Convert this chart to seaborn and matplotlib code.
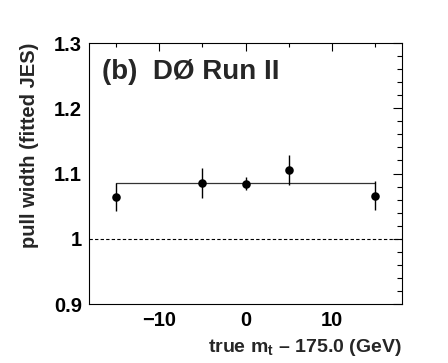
import matplotlib
matplotlib.use("Agg")
import numpy as np
import pandas as pd
import matplotlib.pyplot as plt
import seaborn as sns
from matplotlib.ticker import MultipleLocator, FuncFormatter

# ------------------------------------------------------------
# data
# ------------------------------------------------------------
mass_shift = [-15, -5, 0, 5, 15]          # true m_t - 175.0 (GeV)
pull_width = [1.064, 1.086, 1.084, 1.106, 1.066]
pull_err = [0.022, 0.023, 0.010, 0.023, 0.022]
fit_x = [-15, 15]
fit_y = [1.086, 1.086]

df = pd.DataFrame({"x": mass_shift, "y": pull_width, "err": pull_err})
fit = pd.DataFrame({"x": fit_x, "y": fit_y})

sns.set_style("white")
plt.rcParams["font.family"] = ["Liberation Sans", "DejaVu Sans"]
plt.rcParams["font.weight"] = "bold"
plt.rcParams["mathtext.fontset"] = "custom"
plt.rcParams["mathtext.rm"] = "Liberation Sans:bold"
plt.rcParams["mathtext.default"] = "rm"

fig = plt.figure(figsize=(4.48, 3.63), dpi=100)
ax = fig.add_axes([0.1987, 0.1625, 0.6986, 0.719])

# fit line and reference line
sns.lineplot(data=fit, x="x", y="y", ax=ax, color="#333333", lw=0.9)
ax.axhline(1.0, color="black", lw=0.8, ls=(0, (3, 2)))

# points with error bars
ax.errorbar(df["x"], df["y"], yerr=df["err"], fmt="none", ecolor="black",
            elinewidth=1.0, capsize=0)
sns.scatterplot(data=df, x="x", y="y", ax=ax, color="black", s=38,
                edgecolor="black", linewidth=0, zorder=5)

ax.set_xlim(-18.1, 18.1)
ax.set_ylim(0.9, 1.3)

ax.xaxis.set_major_locator(MultipleLocator(10))
ax.xaxis.set_minor_locator(MultipleLocator(5))
ax.yaxis.set_major_locator(MultipleLocator(0.1))
ax.yaxis.set_minor_locator(MultipleLocator(0.02))
ax.yaxis.set_major_formatter(FuncFormatter(lambda v, p: "%g" % round(v, 2)))

ax.tick_params(axis="both", which="both", direction="in", top=True,
               right=True, width=0.8, labelsize=14.5, colors="black")
ax.tick_params(axis="y", which="major", length=6.5, pad=5)
ax.tick_params(axis="y", which="minor", length=3.6)
ax.tick_params(axis="x", which="major", length=5.5, pad=5)
ax.tick_params(axis="x", which="minor", length=3)

for s in ax.spines.values():
    s.set_color("black")
    s.set_linewidth(0.8)

ax.set_xlabel(r"true m$_{t}$ – 175.0 (GeV)", fontsize=14,
              fontweight="bold", loc="right", labelpad=5)
ax.set_ylabel("pull width (fitted JES)", fontsize=14.5,
              fontweight="bold", loc="top", labelpad=11)

ax.text(0.042, 0.889, "(b)  DØ Run II", transform=ax.transAxes,
        fontsize=20, fontweight="bold", va="center", ha="left")

fig.savefig("out.png", dpi=100)
